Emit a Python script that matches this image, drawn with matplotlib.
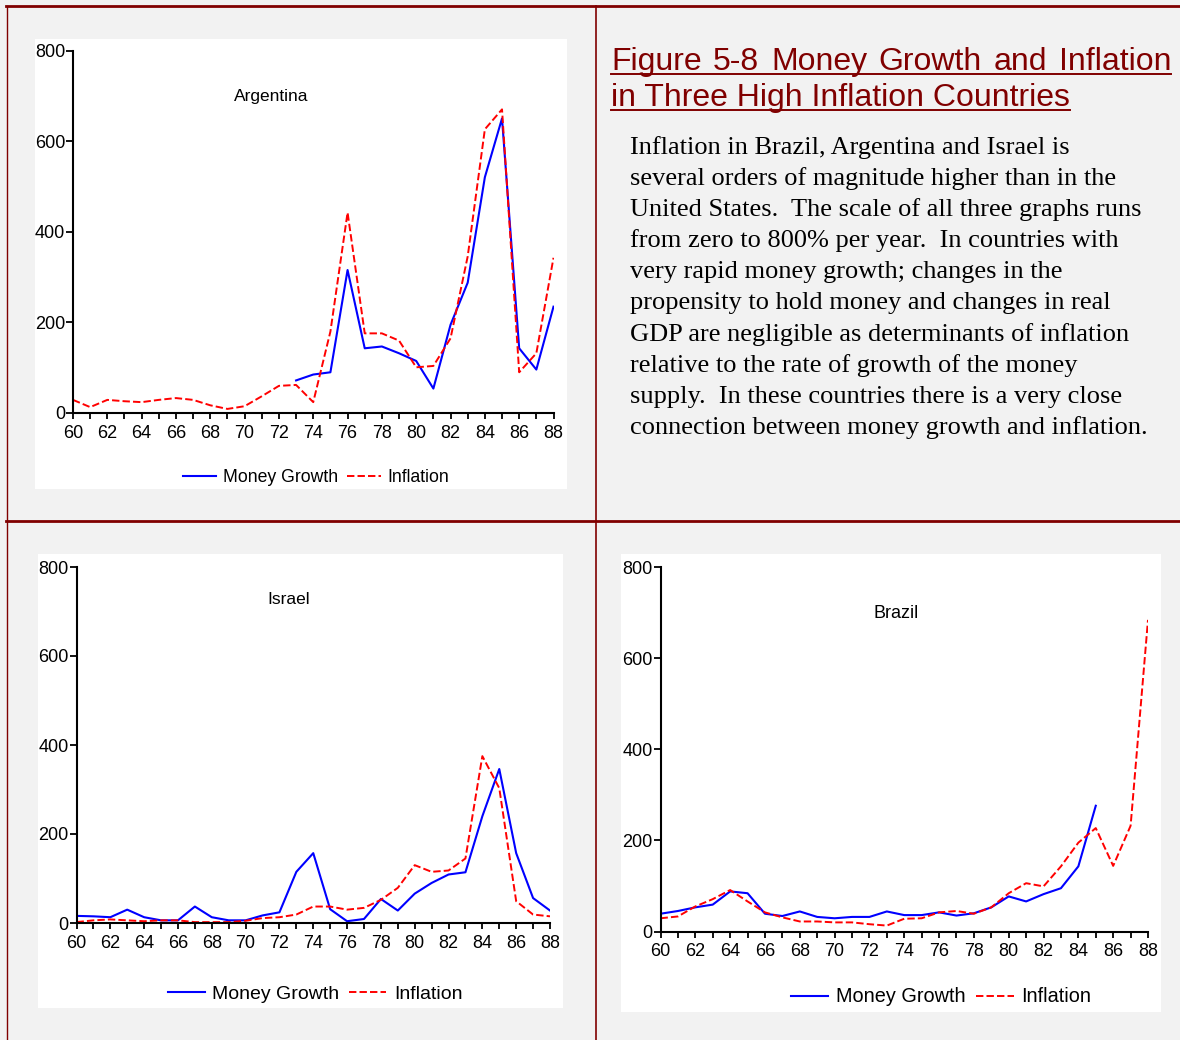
import numpy as np
import matplotlib.pyplot as plt
from matplotlib.patches import Rectangle
from matplotlib.lines import Line2D

# years 1960-1988, shown as two-digit labels
years = list(range(60, 89))
nan = np.nan

arg_money = [nan] * 13 + [72, 85, 90, 316, 143, 147, 132, 115, 54, 195, 288, 521, 651, 143, 96, 235]
arg_infl = [29, 13, 29, 26, 24, 29, 33, 29, 17, 9, 15, 37, 60, 62, 24, 180, 443, 176, 176, 160,
            101, 104, 165, 346, 627, 671, 90, 132, 343]

isr_money = [16, 15, 13, 30, 13, 6, 6, 37, 13, 6, 6, 17, 24, 115, 157, 31, 4, 9, 54, 28,
             66, 90, 109, 114, 240, 346, 157, 56, 28]
isr_infl = [2, 6, 8, 6, 4, 6, 6, 2, 2, 2, 5, 11, 13, 19, 37, 37, 30, 34, 52, 79,
            130, 115, 118, 145, 375, 303, 49, 19, 15]

bra_money = [39, 45, 53, 59, 88, 84, 39, 34, 44, 32, 29, 32, 32, 44, 36, 36, 42, 35, 40, 53,
             77, 66, 82, 95, 143, 276, nan, nan, nan]
bra_infl = [29, 33, 55, 71, 91, 66, 42, 31, 22, 22, 20, 20, 16, 13, 28, 29, 42, 45, 39, 53,
            84, 106, 99, 143, 195, 227, 144, 232, 684]

title_lines = ["Figure 5-8 Money Growth and Inflation", "in Three High Inflation Countries"]
body_lines = [
    "Inflation in Brazil, Argentina and Israel is",
    "several orders of magnitude higher than in the",
    "United States.  The scale of all three graphs runs",
    "from zero to 800% per year.  In countries with",
    "very rapid money growth; changes in the",
    "propensity to hold money and changes in real",
    "GDP are negligible as determinants of inflation",
    "relative to the rate of growth of the money",
    "supply.  In these countries there is a very close",
    "connection between money growth and inflation.",
]

W, H = 1180, 1040
DARKRED = '#800000'
SANS = 'Liberation Sans'

fig = plt.figure(figsize=(W / 100, H / 100), dpi=100, facecolor='#f2f2f2')


def fx(x):
    return x / W


def fy(y):
    return 1 - y / H


def hline(x0, x1, y, lw, color=DARKRED):
    fig.add_artist(Line2D([fx(x0), fx(x1)], [fy(y), fy(y)], color=color, lw=lw,
                          transform=fig.transFigure))


def vline(x, y0, y1, lw):
    fig.add_artist(Line2D([fx(x), fx(x)], [fy(y0), fy(y1)], color=DARKRED, lw=lw,
                          transform=fig.transFigure))


# frame lines
hline(6, W, 6, 2.0)
hline(6, W, 520.5, 2.0)
vline(6.5, 6, H, 1.0)
vline(596, 6, H, 1.2)


def panel(white, axbox, money, infl, name, name_xy, name_fs, tick_fs, leg_xy, leg_fs):
    x0, y0, x1, y1 = white
    fig.patches.append(Rectangle((fx(x0), fy(y1)), (x1 - x0) / W, (y1 - y0) / H,
                                 transform=fig.transFigure, facecolor='white',
                                 edgecolor='none', zorder=-5))
    a0, b0, a1, b1 = axbox
    ax = fig.add_axes([fx(a0), fy(b1), (a1 - a0) / W, (b1 - b0) / H])
    ax.set_zorder(2)
    ax.patch.set_alpha(0)
    ax.plot(years, money, color='#0000ff', lw=1.5, label='Money Growth')
    ax.plot(years, infl, color='#ff0000', lw=1.4, ls=(0, (3.8, 1.6)), label='Inflation')
    ax.set_xlim(60, 88)
    ax.set_ylim(0, 800)
    ax.set_xticks(years)
    ax.set_xticklabels([str(y) if y % 2 == 0 else '' for y in years])
    ax.set_yticks([0, 200, 400, 600, 800])
    for s in ['top', 'right']:
        ax.spines[s].set_visible(False)
    for s in ['left', 'bottom']:
        ax.spines[s].set_linewidth(1.5)
    ax.tick_params(axis='x', length=4, width=1.3, pad=4.5, labelsize=tick_fs)
    ax.tick_params(axis='y', length=5, width=1.3, pad=0.5, labelsize=tick_fs)
    for lab in ax.get_xticklabels() + ax.get_yticklabels():
        lab.set_family(SANS)
    fig.text(fx(name_xy[0]), fy(name_xy[1]), name, ha='center', va='center',
             family=SANS, fontsize=name_fs)
    fig.legend(handles=ax.get_lines(), loc='center', bbox_to_anchor=(fx(leg_xy[0]), fy(leg_xy[1])),
               ncol=2, frameon=False, handlelength=1.9, handletextpad=0.4,
               columnspacing=0.5, prop={'family': SANS, 'size': leg_fs})
    return ax


panel((35, 39, 567, 489), (73, 51, 553.5, 413), arg_money, arg_infl,
      'Argentina', (271, 96), 12.5, 13, (316, 478), 12.7)
panel((38, 554, 563, 1008), (76.5, 567, 550, 923), isr_money, isr_infl,
      'Israel', (289, 600), 12.5, 13, (315, 994), 14)
panel((621, 554, 1161, 1012), (660.5, 567, 1148, 931.5), bra_money, bra_infl,
      'Brazil', (896, 613), 13, 13, (941, 997), 14.3)

# title, first line justified, both underlined
renderer = fig.canvas.get_renderer()
tfont = dict(family=SANS, fontsize=23, color=DARKRED, va='baseline')
words = title_lines[0].split(' ')
tx0, tx1 = 611, 1171
texts = [fig.text(0, fy(70), w, **tfont) for w in words]
widths = [t.get_window_extent(renderer).width for t in texts]
gap = (tx1 - tx0 - sum(widths)) / (len(words) - 1)
x = tx0
for t, w in zip(texts, widths):
    t.set_x(fx(x))
    x += w + gap
hline(tx0, tx1, 73.5, 1.4)
t2 = fig.text(fx(tx0), fy(106), title_lines[1], **tfont)
w2 = t2.get_window_extent(renderer).width
hline(tx0, tx0 + w2, 109.5, 1.4)

for i, line in enumerate(body_lines):
    fig.text(fx(630), fy(154 + 31.1 * i), line, family='Liberation Serif', fontsize=19,
             va='baseline', color='black')

fig.savefig('out.png', dpi=100, facecolor=fig.get_facecolor())
